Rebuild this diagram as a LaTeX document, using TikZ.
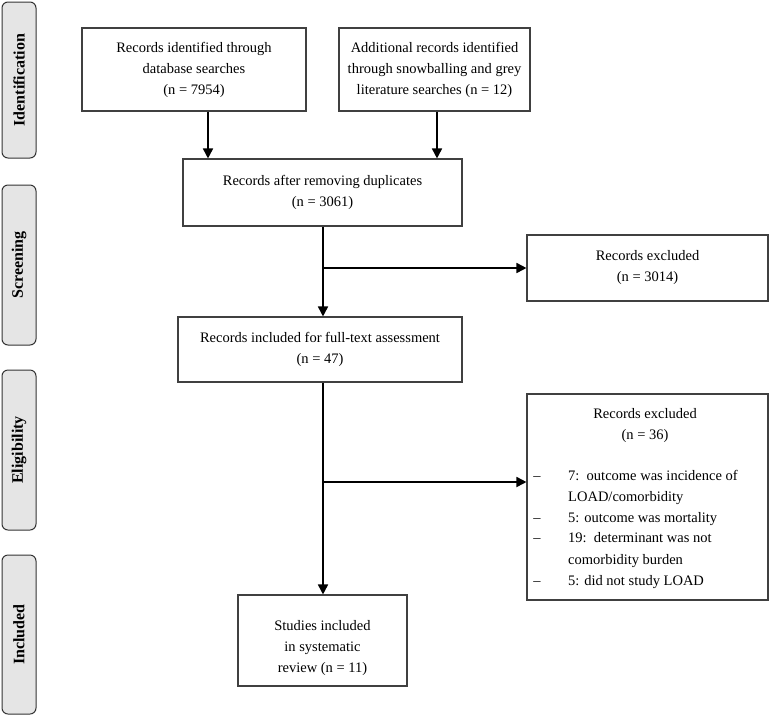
\documentclass[tikz,border=0pt]{standalone}
\usepackage{fontspec}
\setmainfont{Liberation Serif}
\usetikzlibrary{arrows.meta}
\begin{document}
\begin{tikzpicture}[x=1pt,y=-1pt,
  box/.style={draw=black!75, line width=1.1pt, align=center, inner sep=0pt,
    font=\fontsize{14.5}{21}\selectfont},
  phase/.style={draw=black!80, line width=1pt, fill=black!10, rounded corners=6pt,
    inner sep=0pt, rotate=90, font=\fontsize{16}{19}\selectfont\bfseries},
  arr/.style={line width=1.7pt, -{Triangle[length=10pt,width=10pt]}},
  txt/.style={inner sep=0pt, font=\fontsize{14.5}{21}\selectfont}]
\useasboundingbox (0,0) rectangle (771,716);

% phase labels
\node[phase, minimum width=156pt, minimum height=34pt] (pid) at (19,80) {Identification};
\node[phase, minimum width=160pt, minimum height=34pt] (psc) at (19,265) {Screening};
\node[phase, minimum width=160pt, minimum height=34pt] (pel) at (19,450) {Eligibility};
\node[phase, minimum width=159pt, minimum height=34pt] (pin) at (19,634.5) {Included};

% boxes
\node[box, minimum width=224pt, minimum height=83pt] (b1) at (194,69.5)
  {Records identified through\\database searches\\(n = 7954)};
\node[box, minimum width=191pt, minimum height=83pt] (b2) at (434.5,69.5)
  {Additional records identified\\through snowballing and grey\\literature searches (n = 12)};
\node[box, minimum width=279pt, minimum height=67pt] (b3) at (322.5,192.5)
  {Records after removing duplicates\\(n = 3061)};
\node[box, minimum width=241pt, minimum height=66pt] (e1) at (647.5,268)
  {Records excluded\\(n = 3014)};
\node[box, minimum width=284pt, minimum height=65pt] (b4) at (320,349.5)
  {Records included for full-text assessment\\(n = 47)};
\node[box, minimum width=241pt, minimum height=206pt] (e2) at (647.5,497) {};
\node[box, minimum width=169pt, minimum height=91pt] (b5) at (322.5,640.5) {};
\node[txt, align=center] (b5t) at (322.5,648)
  {Studies included\\in systematic\\review (n = 11)};

% excluded list
\node[txt, align=center] (e2h) at (645,426) {Records excluded\\(n = 36)};
\node[txt, anchor=base] (d1) at (537,480) {–};
\node[txt, anchor=base west] (l1) at (568,480) {7:\ \ outcome was incidence of};
\node[txt, anchor=base west] (l2) at (568,501) {LOAD/comorbidity};
\node[txt, anchor=base] (d3) at (537,522) {–};
\node[txt, anchor=base west] (l3) at (568,522) {5: outcome was mortality};
\node[txt, anchor=base] (d4) at (537,542) {–};
\node[txt, anchor=base west] (l4) at (568,542) {19:\ \ determinant was not};
\node[txt, anchor=base west] (l5) at (568,564) {comorbidity burden};
\node[txt, anchor=base] (d6) at (537,585) {–};
\node[txt, anchor=base west] (l6) at (568,585) {5: did not study LOAD};

% connectors
\coordinate (v1) at (323,0);
\coordinate (j2) at (323,482);
\draw[arr] ([xshift=14pt]b1.south) -- ([xshift=14pt]b1.south |- b3.north);
\draw[arr] ([xshift=2.5pt]b2.south) -- ([xshift=2.5pt]b2.south |- b3.north);
\draw[arr] (v1 |- b3.south) -- (v1 |- b4.north);
\draw[arr] (v1 |- e1.west) -- (e1.west);
\draw[arr] (v1 |- b4.south) -- (v1 |- b5.north);
\draw[arr] (j2) -- (j2 -| e2.west);
\end{tikzpicture}
\end{document}
